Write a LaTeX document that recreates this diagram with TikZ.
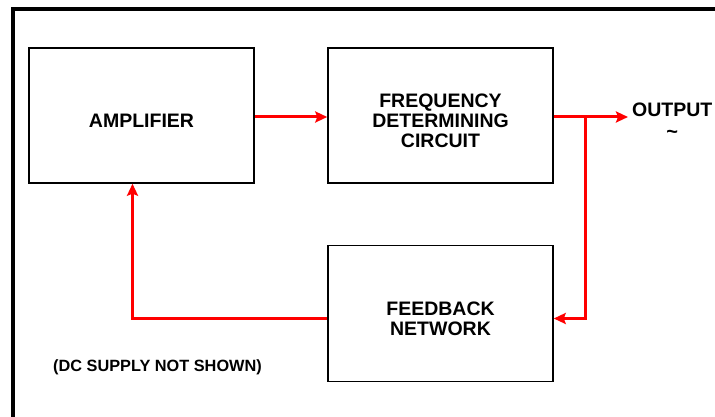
\documentclass[tikz,border=0pt]{standalone}
\usepackage{fontspec}
\setmainfont{Liberation Sans}
\usetikzlibrary{positioning}
\usetikzlibrary{arrows.meta}
\tikzset{>={Stealth[length=12pt,width=11pt,inset=2pt]}}
\colorlet{myred}{red}
\newcommand{\blocktext}[1]{\raisebox{0pt}[\dimexpr\height+16pt\relax][\depth]{\begin{tabular}{@{}c@{}}#1\end{tabular}}}
\tikzset{
    block/.style={draw, line width=1.5pt, minimum width=225pt, minimum height=135pt, inner sep=0pt, font=\bfseries\fontsize{19.5}{20}\selectfont},
    feed/.style={line width=3pt, myred},
}

\begin{document}
\begin{tikzpicture}[x=1pt, y=1pt]

    \def\W{715};
    \def\H{417};
    \useasboundingbox (0, 0) rectangle (\W, \H);

    % frame (only top and left are visible)
    \draw[line width=4pt] (13, 0) -- (13, 408) -- (\W, 408);

    \node[block] (amp) at (141.5, 301.5) {\blocktext{AMPLIFIER}};
    \node[block] (freq) at (440.5, 301.5) {\blocktext{FREQUENCY\\DETERMINING\\CIRCUIT}};
    \node[block, minimum height=136pt] (fb) at (440.5, 103.5) {\blocktext{FEEDBACK\\NETWORK}};

    \coordinate (outpt) at (628, 300);
    \coordinate (tap) at (585, 300);
    \node[anchor=base west, inner sep=0pt, font=\bfseries\fontsize{19.5}{20}\selectfont] (out) at (632, 300) {OUTPUT};
    \node[below=13pt of out, inner sep=0pt, font=\bfseries\fontsize{20}{20}\selectfont] (sine) {\textasciitilde};

    \node[anchor=west, inner sep=0pt, font=\bfseries\fontsize{16.3}{18}\selectfont] (note) at (53, 50) {(DC SUPPLY NOT SHOWN)};

    \draw[feed, ->] (amp.east |- tap) -- (freq.west |- tap);
    \draw[feed, ->] (freq.east |- tap) -- (outpt);
    \draw[feed, ->] (tap) |- ([yshift=-5pt]fb.east);
    \draw[feed, ->] ([yshift=-5pt]fb.west) -| ([xshift=-9pt]amp.south);

\end{tikzpicture}
\end{document}
